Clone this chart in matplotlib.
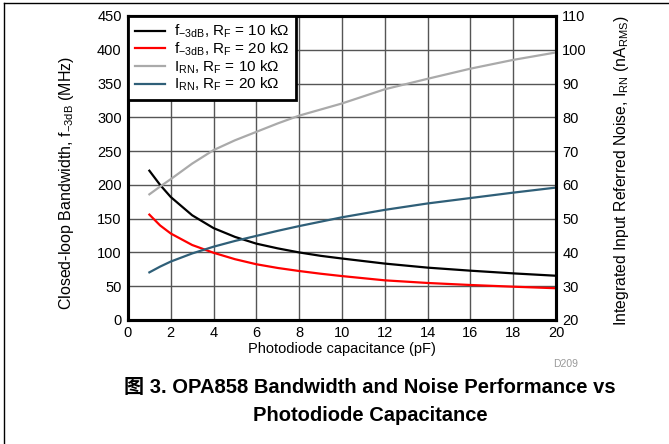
import numpy as np
import matplotlib
matplotlib.use("Agg")
import matplotlib.pyplot as plt
from matplotlib.lines import Line2D

plt.rcParams["font.family"] = ["Liberation Sans", "Noto Sans CJK SC", "DejaVu Sans"]
plt.rcParams["mathtext.default"] = "regular"
plt.rcParams["mathtext.fontset"] = "custom"
plt.rcParams["mathtext.rm"] = "Liberation Sans"

# Photodiode capacitance (pF)
cap = [1, 1.5, 2, 3, 4, 5, 6, 7, 8, 9, 10, 12, 14, 16, 18, 20]

# Closed-loop bandwidth (MHz)
bw_10k = [221, 200, 182, 155, 136, 123, 113, 106, 100, 95, 91, 83.5, 77.5, 73, 69, 65.5]
bw_20k = [156, 140, 128, 111, 99.5, 90, 82.5, 77, 72.5, 68.5, 65, 58.7, 54.8, 51.8, 49.3, 47]

# Integrated input referred noise (nA RMS)
irn_10k = [57.2, 59.5, 61.7, 66.3, 70.3, 73.2, 75.7, 78.2, 80.5, 82.3, 84.1, 88.3, 91.4, 94.4, 97, 99.2]
irn_20k = [34.1, 35.8, 37.3, 39.7, 41.7, 43.4, 44.9, 46.4, 47.8, 49.1, 50.4, 52.6, 54.5, 56.1, 57.7, 59.2]

fig = plt.figure(figsize=(6.69, 4.44), dpi=100)
ax = fig.add_axes([0.1913, 0.2793, 0.6397, 0.6847])
ax2 = ax.twinx()

grid_c = "#555555"
ax.set_xlim(0, 20)
ax.set_ylim(0, 450)
ax.set_xticks(np.arange(0, 21, 2))
ax.set_yticks(np.arange(0, 451, 50))
ax2.set_ylim(20, 110)
ax2.set_yticks(np.arange(20, 111, 10))
ax.grid(True, color=grid_c, linewidth=1.0)
ax.set_axisbelow(True)

l1, = ax.plot(cap, bw_10k, color="black", lw=1.6)
l2, = ax.plot(cap, bw_20k, color="#ff0000", lw=1.6)
l3, = ax2.plot(cap, irn_10k, color="#aaaaaa", lw=1.6)
l4, = ax2.plot(cap, irn_20k, color="#2f5f78", lw=1.6)

for a in (ax, ax2):
    a.tick_params(length=0, labelsize=10.5, pad=4.5)
    for s in a.spines.values():
        s.set_linewidth(2.2)
        s.set_color("black")

ax.set_xlabel("Photodiode capacitance (pF)", fontsize=10.5, labelpad=1)
ax.set_ylabel("Closed-loop Bandwidth, f$_{-3dB}$ (MHz)", fontsize=11.5)
ax.yaxis.set_label_coords(-0.121, 0.45)
ax2.set_ylabel("Integrated Input Referred Noise, I$_{RN}$ (nA$_{RMS}$)", fontsize=11.3)
ax2.yaxis.set_label_coords(1.13, 0.49)

leg = ax2.legend([l1, l2, l3, l4],
                 ["f$_{-3dB}$, R$_F$ = 10 k\u03a9", "f$_{-3dB}$, R$_F$ = 20 k\u03a9",
                  "I$_{RN}$, R$_F$ = 10 k\u03a9", "I$_{RN}$, R$_F$ = 20 k\u03a9"],
                 loc="upper left", fontsize=11, frameon=True, fancybox=False,
                 borderaxespad=0, handlelength=2.0, handletextpad=0.55,
                 labelspacing=0.02, borderpad=0.45, framealpha=1)
leg.get_frame().set_edgecolor("black")
leg.get_frame().set_linewidth(2.0)

fig.text(0.845, 0.18, "D209", fontsize=7.5, color="#999999", ha="center", va="center")
fig.text(0.553, 0.128, "\u56fe 3. OPA858 Bandwidth and Noise Performance vs",
         fontsize=14.5, fontweight="bold", ha="center", va="center")
fig.text(0.553, 0.065, "Photodiode Capacitance",
         fontsize=14.5, fontweight="bold", ha="center", va="center")

# outer frame (top and left edges)
fig.add_artist(Line2D([0.006, 1.0], [0.993, 0.993], transform=fig.transFigure, color="black", lw=1))
fig.add_artist(Line2D([0.006, 0.006], [0.0, 0.993], transform=fig.transFigure, color="black", lw=1))

fig.savefig("out.png", dpi=100)
